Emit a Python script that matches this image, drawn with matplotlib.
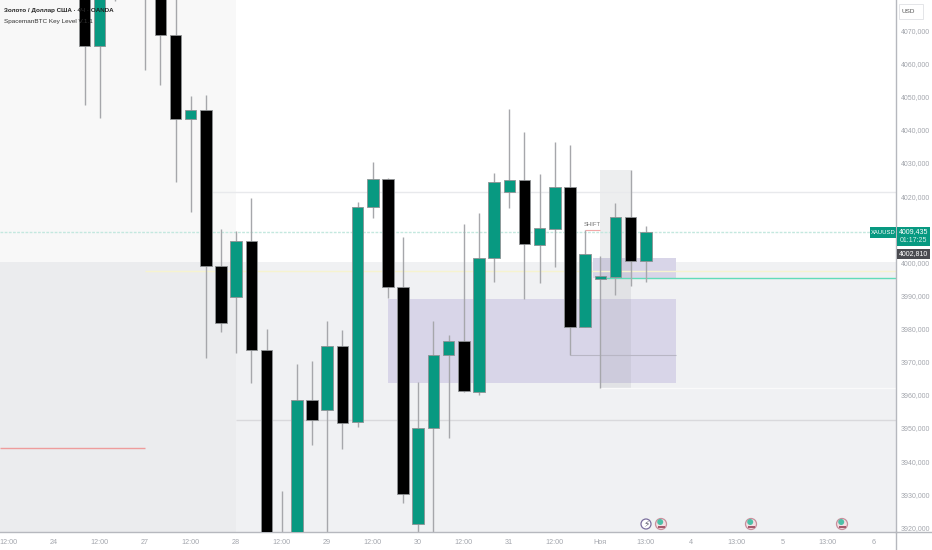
import matplotlib
matplotlib.use("Agg")
import matplotlib.pyplot as plt
from matplotlib.patches import Rectangle, Circle

# 4h candles: index 0 is the first candle drawn on the chart
opens = [4085, 4065.3, 4085, 4090, 4085, 4085, 4068.6, 4043.3, 4046.0, 3999.0, 3989.6, 4006.5, 3973.6, 3905, 3905,
         3958.3, 3955.5, 3974.9, 3951.8, 4016.6, 4025.2, 3992.5, 3921.0, 3950.1, 3972.1, 3976.3, 3961.0, 4001.3,
         4021.2, 4024.9, 4005.2, 4010.2, 4022.8, 3980.4, 3995.1, 3995.6, 4013.6, 4000.4]
closes = [4065.3, 4085, 4082, 4095, 4090, 4068.6, 4043.3, 4046.0, 3999.0, 3981.6, 4006.5, 3973.4, 3905, 3915, 3958.3,
          3952.5, 3974.9, 3951.6, 4016.8, 4025.2, 3992.6, 3930.1, 3950.1, 3972.1, 3976.3, 3961.2, 4001.3, 4024.3,
          4024.9, 4005.6, 4010.4, 4022.8, 3980.4, 4002.5, 3995.9, 4013.6, 4000.3, 4009.2]
highs = [4095, 4095, 4095, 4100, 4095, 4095, 4090, 4050.2, 4050.5, 4010.1, 4009.5, 4019.5, 3979.9, 3931.1, 3969.3,
         3970.2, 3982.3, 3979.6, 4018.3, 4030.3, 4025.5, 4007.6, 3964.0, 3982.3, 3978.1, 4011.6, 4014.9, 4027.0,
         4046.4, 4039.4, 4026.7, 4036.3, 4035.5, 4009.8, 4001.9, 4018.0, 4027.9, 4011.0]
lows = [4047.5, 4043.6, 4078.8, 4085, 4058.1, 4053.5, 4024.3, 4015.2, 3971.2, 3979.0, 3972.7, 3963.6, 3900, 3900, 3900,
        3944.9, 3910, 3943.7, 3950.4, 4013.4, 3989.3, 3927.5, 3910, 3910, 3947.0, 3960.9, 3960.0, 3994.2,
        4016.4, 3989.0, 3993.9, 3998.7, 3972.1, 3980.4, 3962.1, 3990.2, 3993.0, 3994.1]

tick_idx = [-5, -2, 1, 4, 7, 10, 13, 16, 19, 22, 25, 28, 31, 34, 37, 40, 43, 46, 49, 52]
tick_txt = ["12:00", "24", "12:00", "27", "12:00", "28", "12:00", "29", "12:00", "30", "12:00", "31", "12:00",
            "Ноя", "13:00", "4", "13:00", "5", "13:00", "6"]
# 4010 is hidden behind the price badge in the reference
price_ticks = [3920, 3930, 3940, 3950, 3960, 3970, 3980, 3990, 4000, 4020, 4030, 4040, 4050, 4060, 4070]

GREEN = "#089981"
TXT = "#a3a6ad"
plt.rcParams["font.family"] = ["Liberation Sans", "DejaVu Sans"]

W, H = 932, 550
fig = plt.figure(figsize=(W / 100, H / 100), dpi=100, facecolor="white")
ax = fig.add_axes([0, 1 - 532 / H, 896 / W, 532 / H])
ax.set_xlim(-5.57, 53.49)
ax.set_ylim(3918.6, 4079.2)
ax.set_facecolor("white")

# background zones
ax.axvspan(-5.57, 10, ymin=0, ymax=1, color="#f8f8f8", lw=0, zorder=0)
ax.add_patch(Rectangle((-5.57, 3918.6), 59.06, 4000 - 3918.6, fc="#f0f1f3", lw=0, zorder=0.2))
ax.add_patch(Rectangle((-5.57, 3918.6), 15.57, 4000 - 3918.6, fc="#ebecee", lw=0, zorder=0.3))
ax.add_patch(Rectangle((20, 3963.6), 19, 25.4, fc="#d8d5e8", lw=0, zorder=1))
ax.add_patch(Rectangle((33.5, 3995.3), 5.5, 5.9, fc="#d8d5e8", lw=0, zorder=1))
ax.add_patch(Rectangle((34, 3962.1), 2.03, 65.8, fc="#9a9ca3", alpha=0.17, lw=0, zorder=1.1))

# level lines
ax.hlines(4021.2, 8, 53.49, color="#e8e9ec", lw=1, zorder=1.2)
ax.hlines(4009.2, -5.57, 53.49, color="#c4e8df", lw=1, ls=(0, (2, 1)), zorder=1.2)
ax.hlines(3997.4, 4, 53.49, color="#f6f3cf", lw=1, zorder=1.2)
ax.hlines(3995.3, 34, 53.49, color="#62dcb9", lw=1, zorder=1.2)
ax.hlines(3962.1, 34, 53.49, color="#fafafa", lw=1, zorder=1.2)
ax.hlines(3952.4, 10, 53.49, color="#d9d9dc", lw=1, zorder=1.2)
ax.hlines(3944, -5.57, 4, color="#ee9c9c", lw=1, zorder=1.2)
ax.hlines(3972.1, 32, 39, color="#b8b6c4", lw=0.8, zorder=1.2)
ax.hlines(4009.9, 33, 34, color="#f2a8a8", lw=0.8, zorder=1.2)

# candles
for i, (o, c, h, l) in enumerate(zip(opens, closes, highs, lows)):
    col = GREEN if c >= o else "black"
    ax.vlines(i, l, h, color="#a6a7ab", lw=1, zorder=2)
    ax.bar(i, abs(c - o), bottom=min(o, c), width=0.76, color=col, edgecolor="#8f9294", lw=0.6, zorder=3)

ax.set_xticks(tick_idx)
ax.set_xticklabels(tick_txt, color=TXT, fontsize=5.2)
ax.tick_params(axis="x", length=0, pad=5)
ax.yaxis.tick_right()
ax.set_yticks(price_ticks)
ax.set_yticklabels([f"{p},000" for p in price_ticks], color=TXT, fontsize=5.0)
ax.tick_params(axis="y", length=0, pad=3.6)
for s in ("top", "left"):
    ax.spines[s].set_visible(False)
ax.spines["right"].set_color("#b6b8be")
ax.spines["bottom"].set_color("#b6b8be")
ax.spines["right"].set_linewidth(1)
ax.spines["bottom"].set_linewidth(1)

# overlay in pixel coordinates for labels and badges
ov = fig.add_axes([0, 0, 1, 1], zorder=5)
ov.set_xlim(0, W)
ov.set_ylim(H, 0)
ov.axis("off")
ov.patch.set_alpha(0)
ov.plot([896, 932], [532, 532], color="#b6b8be", lw=1)
ov.plot([896, 896], [532, 550], color="#b6b8be", lw=1)

ov.text(4, 10.5, "Золото / Доллар США · 4Ч · OANDA", fontsize=4.5, color="#222", fontweight="bold", va="center")
ov.text(4, 21, "SpacemanBTC Key Level V.1.1", fontsize=4.6, color="#333", va="center")
ov.text(592.5, 224.5, "SHIFT", fontsize=4.2, color="#777", ha="center", va="center")

ov.add_patch(Rectangle((899, 4), 24, 15, fc="white", ec="#e4e5e8", lw=0.7))
ov.text(908, 11.5, "USD", fontsize=4.6, color="#555", ha="center", va="center")

ov.add_patch(Rectangle((870, 227), 26, 10.5, fc=GREEN, lw=0))
ov.add_patch(Rectangle((896.5, 227), 33, 19, fc=GREEN, lw=0))
ov.text(883, 232.5, "XAUUSD", fontsize=4.2, color="white", ha="center", va="center")
ov.text(913.5, 232, "4009,435", fontsize=5, color="white", ha="center", va="center")
ov.text(913.5, 240.5, "01:17:25", fontsize=5, color="#d8f0ea", ha="center", va="center")
ov.add_patch(Rectangle((896.5, 249), 33, 10, fc="#4a4b50", lw=0))
ov.text(913.5, 254, "4002,810", fontsize=5, color="white", ha="center", va="center")

ov.add_patch(Circle((646, 524), 5, fc="white", ec="#7b6f9e", lw=0.9))
ov.text(646, 524, "\u26a1", fontsize=6.5, color="#5f5f70", ha="center", va="center", family="DejaVu Sans")
for x in (661, 751, 842):
    ov.add_patch(Circle((x, 524), 5.5, fc="#f4dfe3", ec="#c78f9c", lw=0.9))
    ov.add_patch(Circle((x - 0.8, 522), 3, fc="#4fc0a8", lw=0))
    ov.add_patch(Rectangle((x - 3.5, 526), 7, 1.6, fc="#a65a6c", lw=0))

fig.savefig("out.png", dpi=100, facecolor="white")
